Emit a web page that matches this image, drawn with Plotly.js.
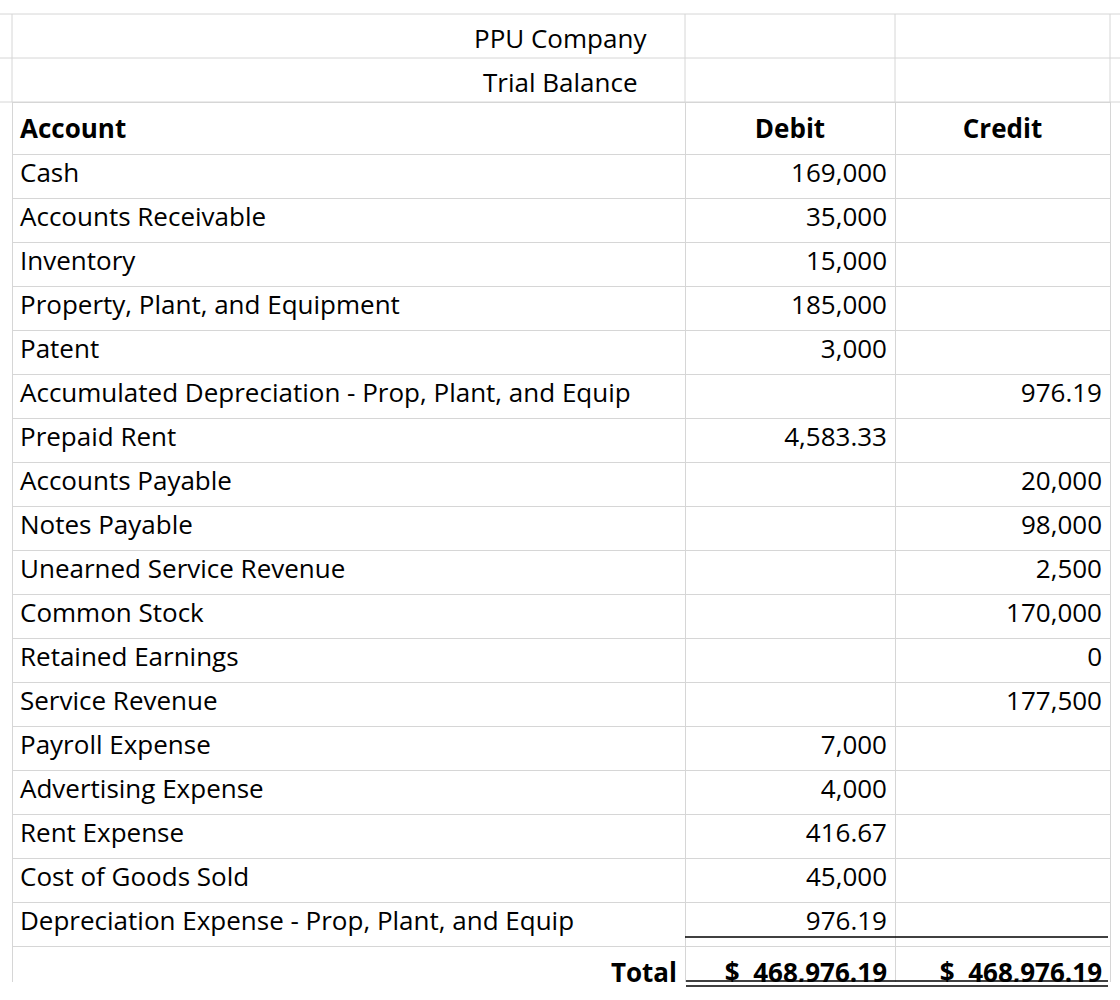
<!DOCTYPE html>
<html>
<head>
<meta charset="utf-8">
<script src="https://cdn.plot.ly/plotly-3.0.1.min.js"></script>
<style>body{margin:0;background:#fff}</style>
</head>
<body>
<div id="myDiv" style="width:1120px;height:1000px"></div>
<script>
var company = 'PPU Company';
var reportName = 'Trial Balance';
var headers = ['Account', 'Debit', 'Credit'];
var accounts = ['Cash', 'Accounts Receivable', 'Inventory', 'Property, Plant, and Equipment', 'Patent',
  'Accumulated Depreciation - Prop, Plant, and Equip', 'Prepaid Rent', 'Accounts Payable', 'Notes Payable',
  'Unearned Service Revenue', 'Common Stock', 'Retained Earnings', 'Service Revenue', 'Payroll Expense',
  'Advertising Expense', 'Rent Expense', 'Cost of Goods Sold', 'Depreciation Expense - Prop, Plant, and Equip'];
var debits = [169000, 35000, 15000, 185000, 3000, null, 4583.33, null, null, null, null, null, null, 7000, 4000, 416.67, 45000, 976.19];
var credits = [null, null, null, null, null, 976.19, null, 20000, 98000, 2500, 170000, 0, 177500, null, null, null, null, null];
var totalDebit = 468976.19;
var totalCredit = 468976.19;

function fmt(v) {
  if (v === null) return '';
  if (Number.isInteger(v)) return v.toLocaleString('en-US');
  return v.toLocaleString('en-US', {minimumFractionDigits: 2, maximumFractionDigits: 2});
}
function money(v) {
  return '<b>$\u00a0\u00a0' + v.toLocaleString('en-US', {minimumFractionDigits: 2}) + '</b>';
}

var colA = accounts.concat(['<b>Total</b>']);
var colB = debits.map(fmt).concat([money(totalDebit)]);
var colC = credits.map(fmt).concat([money(totalCredit)]);
var alignA = accounts.map(function () { return 'left'; }).concat(['right']);

var grid = '#d6d6d6';
var font = {family: 'Open Sans, sans-serif', size: 26, color: '#000'};

var table = {
  type: 'table',
  domain: {x: [12 / 1120, 1110 / 1120], y: [0.018, 0.898]},
  columnwidth: [673, 210, 215],
  header: {
    values: headers.map(function (h) { return '<b>' + h + '</b>'; }),
    align: ['left', 'center', 'center'],
    height: 44,
    font: font,
    fill: {color: '#fff'},
    line: {color: grid, width: 1}
  },
  cells: {
    values: [colA, colB, colC],
    align: [alignA, 'right', 'right'],
    height: 44,
    font: font,
    fill: {color: '#fff'},
    line: {color: grid, width: 1}
  }
};

var shapes = [];
[14, 58, 102].forEach(function (y) {
  shapes.push({type: 'line', xref: 'paper', yref: 'paper', x0: 0, x1: 1, y0: 1 - y / 1000, y1: 1 - y / 1000, line: {color: grid, width: 1}});
});
[12, 685, 895, 1110].forEach(function (x) {
  shapes.push({type: 'line', xref: 'paper', yref: 'paper', x0: x / 1120, x1: x / 1120, y0: 1 - 14 / 1000, y1: 1 - 102 / 1000, line: {color: grid, width: 1}});
});
// total rules
shapes.push({type: 'line', xref: 'paper', yref: 'paper', x0: 685 / 1120, x1: 1108 / 1120, y0: 1 - 937 / 1000, y1: 1 - 937 / 1000, line: {color: '#000', width: 1.5}});
[981, 986].forEach(function (y) {
  shapes.push({type: 'line', xref: 'paper', yref: 'paper', x0: 686 / 1120, x1: 1108 / 1120, y0: 1 - y / 1000, y1: 1 - y / 1000, line: {color: '#000', width: 1.5}});
});

var layout = {
  width: 1120, height: 1000,
  margin: {l: 0, r: 0, t: 0, b: 0},
  paper_bgcolor: '#fff',
  shapes: shapes,
  annotations: [
    {text: company, xref: 'paper', yref: 'paper', x: 560 / 1120, y: 1 - 18 / 1000, showarrow: false, font: font},
    {text: reportName, xref: 'paper', yref: 'paper', x: 560 / 1120, y: 1 - 62 / 1000, showarrow: false, font: font}
  ]
};

Plotly.newPlot('myDiv', [table], layout, {displayModeBar: false});
</script>
</body>
</html>
